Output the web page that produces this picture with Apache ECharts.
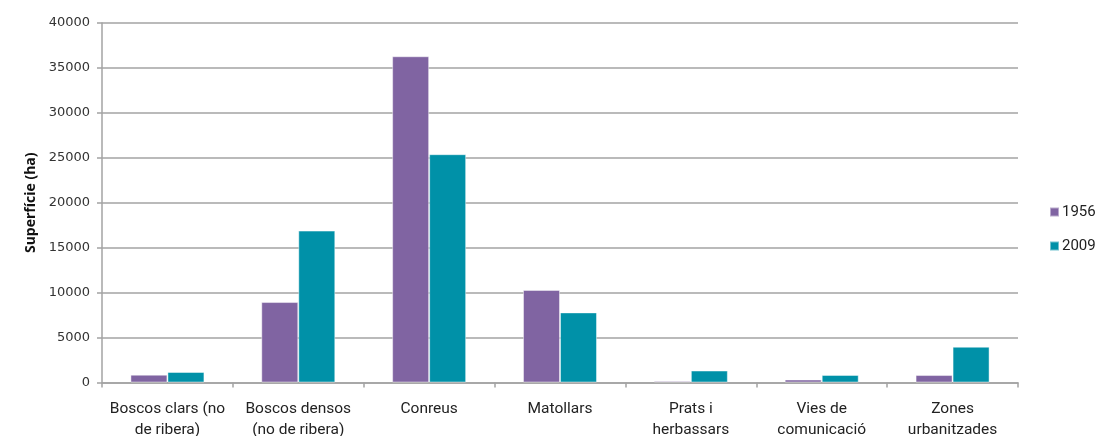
<!DOCTYPE html>
<html>
<head>
<meta charset="utf-8">
<script src="https://cdn.jsdelivr.net/npm/echarts@6/dist/echarts.min.js"></script>
<style>
  html, body { margin: 0; padding: 0; background: #fff; }
  #chart { width: 1110px; height: 436px; }
</style>
</head>
<body>
<div id="chart"></div>
<script>
// Land cover categories (surface in hectares)
const categories = [
  'Boscos clars (no\nde ribera)',
  'Boscos densos\n(no de ribera)',
  'Conreus',
  'Matollars',
  'Prats i\nherbassars',
  'Vies de\ncomunicació',
  'Zones\nurbanitzades'
];
const values1956 = [870, 8950, 36300, 10300, 180, 330, 830];
const values2009 = [1170, 16900, 25400, 7800, 1330, 840, 3980];
const seriesNames = ['1956', '2009'];
const yTicks = { min: 0, max: 40000, interval: 5000 };

const gridColor = '#a3a3a3';
const labelFont = 'Roboto, "Noto Sans", sans-serif';

const chart = echarts.init(document.getElementById('chart'), null, { renderer: 'canvas' });
chart.setOption({
  animation: false,
  backgroundColor: '#ffffff',
  grid: { left: 102, right: 92, top: 23, bottom: 53.5, containLabel: false, outerBoundsMode: 'none' },
  legend: {
    orient: 'vertical',
    left: 1044,
    top: 199,
    itemWidth: 9,
    itemHeight: 9,
    itemGap: 18,
    icon: 'rect',
    textStyle: { fontFamily: labelFont, fontSize: 15, color: '#222', lineHeight: 16, padding: [0, 0, 0, -2] },
    data: seriesNames
  },
  xAxis: {
    type: 'category',
    data: categories,
    boundaryGap: true,
    axisLine: { show: true, lineStyle: { color: gridColor, width: 1.5 } },
    axisTick: { show: true, alignWithLabel: false, length: 5, lineStyle: { color: gridColor, width: 1.5 } },
    axisLabel: {
      interval: 0,
      margin: 16,
      fontFamily: labelFont,
      fontSize: 15.5,
      lineHeight: 21,
      color: '#222'
    }
  },
  yAxis: {
    type: 'value',
    min: yTicks.min,
    max: yTicks.max,
    interval: yTicks.interval,
    name: 'Superfície (ha)',
    nameLocation: 'middle',
    nameGap: 64,
    nameTextStyle: { fontFamily: '"Open Sans", sans-serif', fontWeight: 'bold', fontSize: 14, color: '#111' },
    axisLine: { show: true, lineStyle: { color: gridColor, width: 1.5 } },
    axisTick: { show: true, length: 5, lineStyle: { color: gridColor, width: 1.5 } },
    axisLabel: {
      margin: 12,
      fontFamily: '"DejaVu Sans", Verdana, sans-serif',
      fontSize: 13,
      color: '#333',
      formatter: (v) => String(v)
    },
    splitLine: { show: true, lineStyle: { color: gridColor, width: 1.5 } }
  },
  series: [
    {
      name: seriesNames[0],
      type: 'bar',
      data: values1956,
      barWidth: 37,
      barGap: '0%',
      itemStyle: { color: '#8064a2', borderColor: 'rgba(255,255,255,0.45)', borderWidth: 1 }
    },
    {
      name: seriesNames[1],
      type: 'bar',
      data: values2009,
      barWidth: 37,
      barGap: '0%',
      itemStyle: { color: '#0091a8', borderColor: 'rgba(255,255,255,0.45)', borderWidth: 1 }
    }
  ]
});
</script>
</body>
</html>
